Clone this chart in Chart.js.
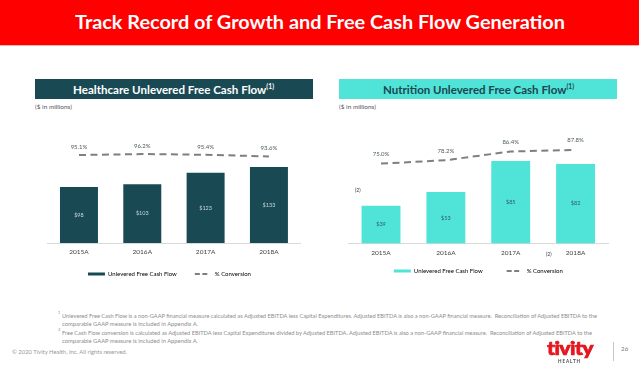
<!DOCTYPE html>
<html>
<head>
<meta charset="utf-8">
<script src="https://cdn.jsdelivr.net/npm/chart.js@4.4.0/dist/chart.umd.min.js"></script>
<style>
html,body{margin:0;padding:0;background:#fff;}
body{width:639px;height:368px;position:relative;overflow:hidden;font-family:Lato,"Open Sans",sans-serif;line-height:1.2;}
.t{position:absolute;white-space:nowrap;display:inline-block;}
.box{position:absolute;}
canvas{position:absolute;}
</style>
</head>
<body>
<div class="box" style="left:0;top:0;width:639px;height:45px;background:#ff0000;border-bottom:1px solid #f6b9a8;"></div>
<span class="t fit" id="title" data-w="490" style="left:75px;top:10.7px;font-size:19px;font-weight:bold;color:#fff;">Track Record of Growth and Free Cash Flow Generation</span>

<div class="box" style="left:35px;top:79px;width:278px;height:20px;background:#194a54;"></div>
<span class="t fit" data-w="201" style="left:73px;top:82.2px;font-size:12px;font-weight:bold;color:#fff;">Healthcare Unlevered Free Cash Flow<sup style="font-size:7px;">(1)</sup></span>
<div class="box" style="left:339px;top:79px;width:278px;height:20px;background:#50e3d8;"></div>
<span class="t fit" data-w="191" style="left:383px;top:82.2px;font-size:12px;font-weight:bold;color:#1b4750;">Nutrition Unlevered Free Cash Flow<sup style="font-size:7px;">(1)</sup></span>

<span class="t fit" data-w="37" style="left:35px;top:103.2px;font-size:6px;color:#555;">($ in millions)</span>
<span class="t fit" data-w="37" style="left:339px;top:103.2px;font-size:6px;color:#555;">($ in millions)</span>

<canvas id="hcChart" width="280" height="175" style="left:35px;top:112px;"></canvas>
<canvas id="nuChart" width="280" height="172" style="left:339px;top:112px;"></canvas>

<span class="t" style="left:355px;top:187px;font-size:5px;color:#333;">(2)</span>
<span class="t" style="left:546px;top:251px;font-size:5px;color:#333;">(2)</span>

<span class="t" style="left:58px;top:311px;font-size:4px;color:#8c8c8c;">1</span>
<span class="t fit" data-w="535" style="left:62px;top:311.7px;font-size:6px;color:#8c8c8c;">Unlevered Free Cash Flow is a non-GAAP financial measure calculated as Adjusted EBITDA less Capital Expenditures. Adjusted EBITDA is also a non-GAAP financial measure.&nbsp; Reconciliation of Adjusted EBITDA to the</span>
<span class="t fit" data-w="136" style="left:62px;top:320.2px;font-size:6px;color:#8c8c8c;">comparable GAAP measure is included in Appendix A.</span>
<span class="t" style="left:58px;top:328px;font-size:4px;color:#8c8c8c;">2</span>
<span class="t fit" data-w="530" style="left:62px;top:328.7px;font-size:6px;color:#8c8c8c;">Free Cash Flow conversion is calculated as Adjusted EBITDA less Capital Expenditures divided by Adjusted EBITDA. Adjusted EBITDA is also a non-GAAP financial measure.&nbsp; Reconciliation of Adjusted EBITDA to the</span>
<span class="t fit" data-w="136" style="left:62px;top:337.2px;font-size:6px;color:#8c8c8c;">comparable GAAP measure is included in Appendix A.</span>

<span class="t fit" data-w="115" style="left:12px;top:348.5px;font-size:5.5px;color:#999;">© 2020 Tivity Health, Inc. All rights reserved.</span>

<span class="t fit" data-w="46" style="left:547px;top:336.5px;font-size:19px;font-weight:900;color:#e4161f;letter-spacing:-0.5px;-webkit-text-stroke:0.7px #e4161f;">tivity</span>
<span class="t fit" data-w="23" style="left:558px;top:357.9px;font-size:5px;font-weight:bold;color:#4a4a4a;letter-spacing:1px;">HEALTH</span>
<div class="box" style="left:613px;top:342px;width:1px;height:19px;background:#c8c8c8;"></div>
<span class="t" style="left:621px;top:345px;font-size:6.5px;color:#777;">26</span>

<script>
// values
const years = ['2015A', '2016A', '2017A', '2018A'];
const hcFcf = [98, 103, 123, 133];
const hcConv = [95.1, 96.2, 95.4, 93.6];
const nuFcf = [39, 53, 85, 82];
const nuConv = [75.0, 78.2, 86.4, 87.8];

document.querySelectorAll('.fit').forEach(el => {
  const w = el.getBoundingClientRect().width;
  el.style.transformOrigin = '0 50%';
  el.style.transform = 'scaleX(' + (el.dataset.w / w) + ')';
});

Chart.defaults.font.family = 'Lato';

const valueLabels = {
  id: 'valueLabels',
  afterDatasetsDraw(chart, args, opts) {
    const ctx = chart.ctx;
    ctx.save();
    ctx.textAlign = 'center';
    ctx.textBaseline = 'middle';
    ctx.font = '5.5px Lato';
    ctx.fillStyle = opts.barText;
    chart.getDatasetMeta(0).data.forEach((bar, i) => {
      ctx.fillText('$' + chart.data.datasets[0].data[i], bar.x, (bar.y + bar.base) / 2);
    });
    ctx.font = '6px Lato';
    ctx.fillStyle = '#4b5a60';
    chart.getDatasetMeta(1).data.forEach((pt, i) => {
      ctx.fillText(chart.data.datasets[1].data[i].toFixed(1) + '%', pt.x, pt.y - opts.pctGap);
    });
    ctx.restore();
  }
};

function makeChart(id, fcf, conv, c) {
  return new Chart(document.getElementById(id), {
    type: 'bar',
    data: {
      labels: years,
      datasets: [{
        label: 'Unlevered Free Cash Flow',
        data: fcf,
        backgroundColor: c.bar,
        barPercentage: 0.6,
        categoryPercentage: 1.0,
        yAxisID: 'y'
      }, {
        type: 'line',
        label: '% Conversion',
        data: conv,
        borderColor: '#7f7f7f',
        borderWidth: 2,
        borderDash: [7, 4.5],
        pointRadius: 0,
        fill: false,
        yAxisID: 'y1'
      }]
    },
    options: {
      responsive: false,
      animation: false,
      layout: { padding: { left: c.padL, right: c.padR, top: c.padT, bottom: 0 } },
      scales: {
        x: {
          offset: true,
          grid: { display: false, drawTicks: false },
          border: { display: true, color: '#d9d9d9', width: 1 },
          ticks: { color: '#404040', font: { size: 6.5 }, padding: c.tickPad },
          afterFit: s => { s.height = c.axisH; }
        },
        y: { display: false, min: 0, max: c.yMax },
        y1: { display: false, min: 0, max: c.y1Max }
      },
      plugins: {
        tooltip: { enabled: false },
        valueLabels: { barText: c.barText, pctGap: c.pctGap },
        legend: {
          position: 'bottom',
          labels: {
            usePointStyle: true,
            pointStyleWidth: 17,
            boxHeight: 3,
            padding: c.legPad,
            color: '#595959',
            font: { size: 6 },
            generateLabels: () => [
              { text: 'Unlevered Free Cash Flow' + c.extra, fillStyle: c.bar, strokeStyle: c.bar, lineWidth: 0, pointStyle: 'rect', datasetIndex: 0 },
              { text: '% Conversion' + c.extra2, fillStyle: 'rgba(0,0,0,0)', strokeStyle: '#7f7f7f', lineWidth: 2, lineDash: [5, 2.5, 5, 100], pointStyle: 'line', datasetIndex: 1 }
            ]
          }
        }
      }
    },
    plugins: [valueLabels]
  });
}

makeChart('hcChart', hcFcf, hcConv, {
  bar: '#194a54', barText: '#c9d6d9', padL: 12.3, padR: 14.4, padT: 8,
  yMax: 215.4, y1Max: 133, tickPad: 5, axisH: 13, legPad: 15, extra: '\u2002', extra2: '\u2003\u2003', pctGap: 8
});
makeChart('nuChart', nuFcf, nuConv, {
  bar: '#50e3d8', barText: '#2e5f63', padL: 9.6, padR: 11, padT: 9,
  yMax: 126.2, y1Max: 115, tickPad: 6, axisH: 14, legPad: 10.5, extra: '\u2003\u2003\u2003', extra2: '', pctGap: 9.5
});
</script>
</body>
</html>
